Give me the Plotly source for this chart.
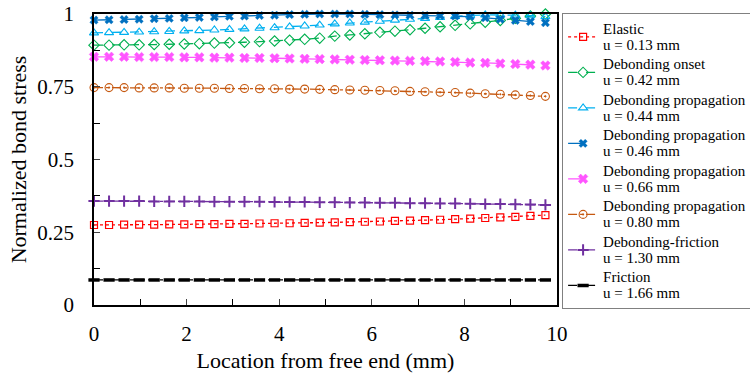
import plotly.graph_objects as go

# Location from free end (mm)
x_mm = [0.0, 0.325, 0.65, 0.975, 1.3, 1.625, 1.95, 2.275, 2.6, 2.925, 3.25,
        3.575, 3.9, 4.225, 4.55, 4.875, 5.2, 5.525, 5.85, 6.175, 6.5, 6.825,
        7.15, 7.475, 7.8, 8.125, 8.45, 8.775, 9.1, 9.425, 9.75]

elastic = [0.275, 0.275, 0.276, 0.276, 0.276, 0.277, 0.277, 0.278, 0.278, 0.279, 0.279,
           0.280, 0.281, 0.281, 0.282, 0.283, 0.284, 0.285, 0.286, 0.287, 0.289, 0.290,
           0.292, 0.293, 0.295, 0.297, 0.299, 0.301, 0.303, 0.306, 0.309]
onset = [0.893, 0.893, 0.894, 0.894, 0.895, 0.896, 0.897, 0.898, 0.900, 0.901, 0.903,
         0.905, 0.907, 0.910, 0.913, 0.917, 0.924, 0.928, 0.932, 0.937, 0.941, 0.946,
         0.951, 0.956, 0.961, 0.966, 0.972, 0.978, 0.985, 0.993, 1.000]
prop044 = [0.935, 0.936, 0.937, 0.938, 0.939, 0.940, 0.942, 0.943, 0.945, 0.947, 0.949,
           0.951, 0.953, 0.956, 0.959, 0.962, 0.966, 0.969, 0.972, 0.975, 0.979, 0.982,
           0.985, 0.988, 0.992, 0.995, 0.997, 0.997, 0.996, 0.994, 0.991]
prop046 = [0.979, 0.980, 0.981, 0.982, 0.984, 0.985, 0.987, 0.988, 0.990, 0.992, 0.993,
           0.995, 0.996, 0.998, 0.999, 1.000, 1.000, 1.000, 0.999, 0.998, 0.997, 0.996,
           0.995, 0.994, 0.993, 0.991, 0.987, 0.982, 0.978, 0.974, 0.970]
prop066 = [0.853, 0.853, 0.853, 0.852, 0.852, 0.852, 0.851, 0.851, 0.850, 0.850, 0.849,
           0.849, 0.848, 0.847, 0.846, 0.845, 0.844, 0.843, 0.842, 0.841, 0.840, 0.839,
           0.838, 0.837, 0.835, 0.833, 0.832, 0.830, 0.828, 0.826, 0.823]
prop080 = [0.747, 0.747, 0.747, 0.746, 0.746, 0.746, 0.745, 0.745, 0.745, 0.744, 0.744,
           0.743, 0.743, 0.742, 0.742, 0.741, 0.740, 0.739, 0.738, 0.737, 0.736, 0.734,
           0.733, 0.731, 0.730, 0.728, 0.726, 0.724, 0.722, 0.720, 0.717]
deb_fric = [0.357, 0.357, 0.357, 0.357, 0.356, 0.356, 0.356, 0.356, 0.355, 0.355, 0.355,
            0.355, 0.354, 0.354, 0.354, 0.353, 0.353, 0.352, 0.352, 0.351, 0.351, 0.350,
            0.350, 0.349, 0.349, 0.348, 0.347, 0.347, 0.346, 0.345, 0.344]
friction = [0.086] * 31

labels = ["Elastic", "Debonding onset", "Debonding propagation", "Debonding propagation",
          "Debonding propagation", "Debonding propagation", "Debonding-friction", "Friction"]
disps = ["u = 0.13 mm", "u = 0.42 mm", "u = 0.44 mm", "u = 0.46 mm",
         "u = 0.66 mm", "u = 0.80 mm", "u = 1.30 mm", "u = 1.66 mm"]
series = [elastic, onset, prop044, prop046, prop066, prop080, deb_fric, friction]

styles = [
    dict(color="#FF0000", dash="dot", symbol="square-open", size=7, mlw=1.2),
    dict(color="#00B050", dash="dash", symbol="diamond-open", size=8, mlw=1.1),
    dict(color="#00B0F0", dash="dash", symbol="triangle-up-open", size=8, mlw=1.1),
    dict(color="#0070C0", dash="longdash", symbol="x", size=7.5, mlw=0.3),
    dict(color="#FF55FF", dash="longdash", symbol="x", size=8.5, mlw=0.5),
    dict(color="#C65911", dash="dashdot", symbol="circle-open-dot", size=8, mlw=1.1),
    dict(color="#7030A0", dash="dashdot", symbol="cross-thin", size=8, mlw=2),
    dict(color="#000000", dash="dashdot", symbol="line-ew", size=8, mlw=3.5),
]

span = "<span style='font-size:15px'>{}</span>"

fig = go.Figure()
for lab, dsp, ys, st in zip(labels, disps, series, styles):
    fig.add_trace(go.Scatter(
        x=x_mm, y=ys, name=span.format(lab) + "<br>" + span.format(dsp),
        mode="lines+markers", cliponaxis=False,
        line=dict(color=st["color"], dash=st["dash"], width=1.3),
        marker=dict(symbol=st["symbol"], size=st["size"], color=st["color"],
                    line=dict(color=st["color"], width=st["mlw"])),
    ))

font_family = "Liberation Serif"
fig.update_layout(
    width=750, height=379,
    margin=dict(l=94, r=193, t=14, b=74, autoexpand=False),
    plot_bgcolor="white", paper_bgcolor="white",
    font=dict(family=font_family, size=21, color="black"),
    showlegend=True,
    legend=dict(x=1.011, y=1.003, xanchor="left", yanchor="top",
                bordercolor="#808080", borderwidth=1, maxheight=400,
                font=dict(family=font_family, size=12.5, color="black"),
                tracegroupgap=0, itemwidth=30),
    xaxis=dict(range=[0, 10], dtick=2, tick0=0, ticks="inside", ticklen=6,
               showline=True, linecolor="black", linewidth=1.5, mirror=True,
               showgrid=False, zeroline=False, ticklabelstandoff=9,
               minor=dict(dtick=1, ticks="inside", ticklen=6, tickcolor="black"),
               title=dict(text="Location from free end (mm)", standoff=8,
                          font=dict(size=22))),
    yaxis=dict(range=[0, 1], dtick=0.25, tick0=0, ticks="inside", ticklen=6,
               showline=True, linecolor="black", linewidth=1.5, mirror=True,
               showgrid=False, zeroline=False, ticklabelstandoff=14,
               minor=dict(dtick=0.125, ticks="inside", ticklen=6, tickcolor="black"),
               title=dict(text="Normalized bond stress", standoff=5,
                          font=dict(size=22))),
)

fig.write_html(
    "out.html",
    config={"displayModeBar": False},
    post_script="document.body.style.margin='0';document.body.style.overflow='hidden';",
)
